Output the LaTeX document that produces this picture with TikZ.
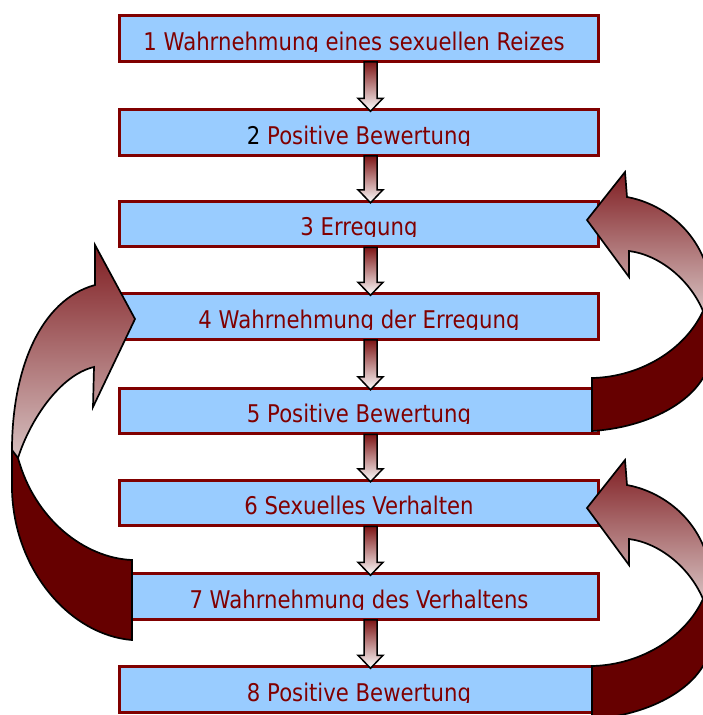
\documentclass[tikz,border=0pt]{standalone}
\usepackage{fontspec}
\setmainfont{DejaVu Sans}
\usetikzlibrary{calc}
\definecolor{boxfill}{RGB}{153,204,255}
\definecolor{boxline}{RGB}{128,0,0}
\definecolor{txtred}{RGB}{128,0,0}
\definecolor{darkback}{RGB}{102,0,0}
\definecolor{gradtop}{RGB}{128,30,34}
\definecolor{gradbot}{RGB}{214,192,192}
\definecolor{shafttop}{RGB}{125,20,20}
\tikzset{
 stepbox/.style={draw=boxline, fill=boxfill, line width=3pt, minimum width=479pt, minimum height=45.5pt, inner sep=0pt},
 lbl/.style={text=txtred, font=\fontsize{21.2}{24}\selectfont, inner sep=0pt},
 smallarr/.style={draw=black, line width=1.5pt, top color=shafttop, bottom color=white},
 backband/.style={draw=black, line width=1.7pt, fill=darkback},
 frontband/.style={draw=black, line width=1.7pt, top color=gradtop, bottom color=gradbot},
}
\newcommand\steprow[4]{%
 \node[stepbox] (#1) at (359,#2) {};
 \begin{scope}
 \clip (119,#2-22) rectangle (599,#2+12.5);
 \node[lbl, anchor=base] (t#1) at (#3,#2+11.5) {\scalebox{1}[1.15]{#4}};
 \end{scope}}
\newcommand\dnarrow[2]{%
 \path[smallarr] let \p1=(#1.south -| ax), \p2=(#2.north -| ax) in
 (\x1-6.5pt,\y1+1pt) -- (\x1+6.5pt,\y1+1pt) -- (\x1+6.5pt,\y2+10pt) -- (\x1+12.5pt,\y2+10pt)
 -- (\x1,\y2-3pt) -- (\x1-12.5pt,\y2+10pt) -- (\x1-6.5pt,\y2+10pt) -- cycle;}
\newcommand\rightloop{%
 \draw[backband] (592,378) .. controls (640,377) and (685,350) .. (703,311) -- (725,311) -- (725,378)
   -- (703,378) .. controls (685,408) and (640,428) .. (592,431) -- cycle;
 \draw[frontband] (627,197) .. controls (655,202) and (690,222) .. (705,262) -- (725,262) -- (725,311)
   -- (703,311) .. controls (690,280) and (660,255) .. (629,251) -- (629,277) -- (587,220) -- (625,172) -- cycle;}
\begin{document}
\begin{tikzpicture}[x=1pt,y=-1pt]
\useasboundingbox (0,0) rectangle (703,715);
\clip (0,0) rectangle (703,715);
\coordinate (ax) at (370.5,0);
\steprow{b1}{38.5}{354}{1 Wahrnehmung eines sexuellen Reizes}
\steprow{b2}{132.5}{359}{{\color{black}2} Positive Bewertung}
\steprow{b3}{224}{359}{3 Erregung}
\steprow{b4}{316.5}{359}{4 Wahrnehmung der Erregung}
\steprow{b5}{411}{359}{5 Positive Bewertung}
\steprow{b6}{503}{359}{6 Sexuelles Verhalten}
\steprow{b7}{596.5}{359}{7 Wahrnehmung des Verhaltens}
\steprow{b8}{689.5}{359}{8 Positive Bewertung}
\dnarrow{b1}{b2}
\dnarrow{b2}{b3}
\dnarrow{b3}{b4}
\dnarrow{b4}{b5}
\dnarrow{b5}{b6}
\dnarrow{b6}{b7}
\dnarrow{b7}{b8}
% right loop 5 -> 3
\rightloop
% right loop 8 -> 6
\begin{scope}[shift={(0,288)}]
\rightloop
\end{scope}
% left loop 7 -> 4
\draw[backband] (132,560) .. controls (85,558) and (35,520) .. (18,458) -- (12,445) -- (12,490)
  .. controls (14,570) and (70,635) .. (132,640) -- cycle;
\draw[frontband] (95,285) .. controls (40,300) and (12,370) .. (12,450) -- (18,458)
  .. controls (30,420) and (60,375) .. (94,367) -- (93,407) -- (135,319) -- (95,245) -- cycle;
\end{tikzpicture}
\end{document}
